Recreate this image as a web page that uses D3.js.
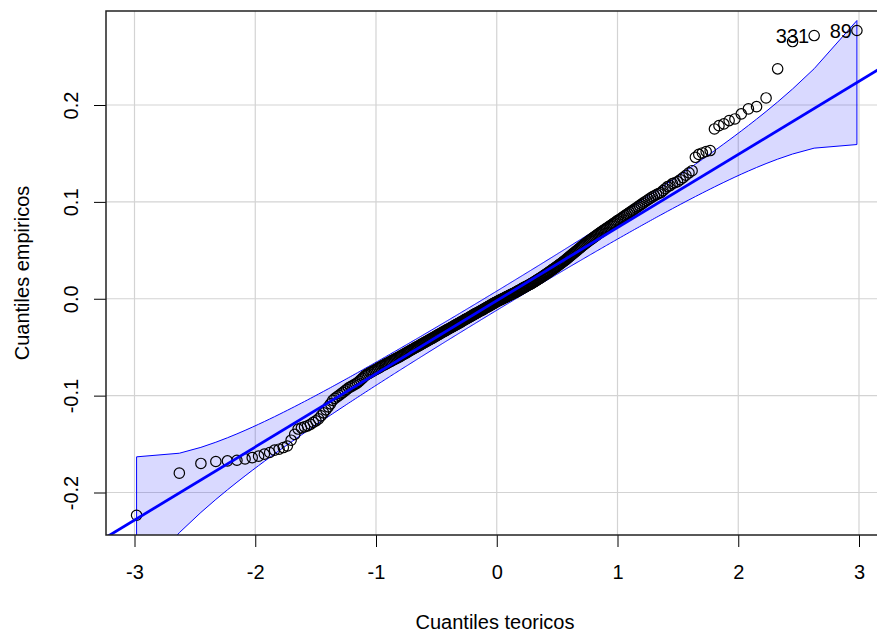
<!DOCTYPE html>
<html lang="es">
<head>
<meta charset="utf-8">
<title>QQ plot</title>
<script src="https://cdnjs.cloudflare.com/ajax/libs/d3/7.8.5/d3.min.js"></script>
<style>
body { margin: 0; background: #fff; }
svg text { font-family: "Liberation Sans", Arial, sans-serif; font-size: 20px; fill: #000; }
.grid line { stroke: #d3d3d3; stroke-width: 1.2px; }
.pt { fill: none; stroke: #000; stroke-width: 1.2px; }
</style>
</head>
<body>
<div id="main"></div>
<script>
// sorted sample values (cuantiles empiricos)
const sampleQuantiles = [
  -0.2235,-0.1800,-0.1700,-0.1680,-0.1674,-0.1667,-0.1653,-0.1640,-0.1625,-0.1604,
  -0.1587,-0.1563,-0.1553,-0.1536,-0.1520,-0.1460,-0.1400,-0.1345,-0.1333,-0.1322,
  -0.1312,-0.1296,-0.1276,-0.1260,-0.1240,-0.1209,-0.1178,-0.1147,-0.1116,-0.1085,
  -0.1049,-0.1028,-0.1012,-0.0997,-0.0981,-0.0966,-0.0950,-0.0935,-0.0919,-0.0909,
  -0.0899,-0.0888,-0.0878,-0.0868,-0.0852,-0.0837,-0.0821,-0.0806,-0.0790,-0.0781,
  -0.0772,-0.0763,-0.0754,-0.0746,-0.0738,-0.0730,-0.0722,-0.0714,-0.0705,-0.0697,
  -0.0689,-0.0682,-0.0674,-0.0667,-0.0660,-0.0653,-0.0646,-0.0639,-0.0632,-0.0625,
  -0.0618,-0.0612,-0.0605,-0.0599,-0.0592,-0.0585,-0.0578,-0.0571,-0.0564,-0.0558,
  -0.0551,-0.0544,-0.0537,-0.0530,-0.0524,-0.0518,-0.0511,-0.0505,-0.0499,-0.0493,
  -0.0487,-0.0481,-0.0474,-0.0468,-0.0462,-0.0456,-0.0450,-0.0444,-0.0438,-0.0432,
  -0.0426,-0.0420,-0.0414,-0.0409,-0.0403,-0.0397,-0.0391,-0.0385,-0.0379,-0.0373,
  -0.0368,-0.0362,-0.0356,-0.0351,-0.0345,-0.0340,-0.0334,-0.0329,-0.0323,-0.0317,
  -0.0312,-0.0307,-0.0302,-0.0297,-0.0291,-0.0286,-0.0280,-0.0275,-0.0269,-0.0264,
  -0.0259,-0.0254,-0.0249,-0.0243,-0.0238,-0.0232,-0.0227,-0.0222,-0.0216,-0.0211,
  -0.0206,-0.0201,-0.0196,-0.0191,-0.0186,-0.0180,-0.0175,-0.0169,-0.0164,-0.0159,
  -0.0154,-0.0149,-0.0144,-0.0139,-0.0134,-0.0129,-0.0124,-0.0119,-0.0114,-0.0109,
  -0.0104,-0.0098,-0.0093,-0.0088,-0.0083,-0.0078,-0.0073,-0.0069,-0.0063,-0.0058,
  -0.0053,-0.0048,-0.0043,-0.0038,-0.0033,-0.0028,-0.0023,-0.0019,-0.0014,-0.0010,
  -0.0006,-0.0001,0.0003,0.0008,0.0012,0.0017,0.0022,0.0026,0.0031,0.0035,
  0.0039,0.0044,0.0048,0.0053,0.0057,0.0062,0.0066,0.0071,0.0076,0.0081,
  0.0086,0.0091,0.0096,0.0102,0.0107,0.0112,0.0117,0.0122,0.0127,0.0132,
  0.0137,0.0142,0.0147,0.0152,0.0157,0.0163,0.0168,0.0174,0.0180,0.0186,
  0.0192,0.0198,0.0204,0.0210,0.0216,0.0222,0.0229,0.0235,0.0242,0.0248,
  0.0255,0.0261,0.0268,0.0275,0.0282,0.0289,0.0296,0.0303,0.0310,0.0317,
  0.0324,0.0331,0.0339,0.0346,0.0354,0.0362,0.0369,0.0377,0.0385,0.0393,
  0.0402,0.0410,0.0419,0.0428,0.0437,0.0446,0.0455,0.0464,0.0473,0.0482,
  0.0491,0.0500,0.0509,0.0519,0.0528,0.0538,0.0548,0.0557,0.0566,0.0575,
  0.0584,0.0593,0.0602,0.0610,0.0619,0.0628,0.0637,0.0646,0.0655,0.0665,
  0.0674,0.0683,0.0692,0.0701,0.0710,0.0719,0.0728,0.0738,0.0747,0.0756,
  0.0765,0.0775,0.0785,0.0796,0.0806,0.0816,0.0826,0.0836,0.0847,0.0858,
  0.0869,0.0880,0.0891,0.0902,0.0913,0.0925,0.0937,0.0949,0.0961,0.0974,
  0.0987,0.0999,0.1012,0.1026,0.1039,0.1052,0.1064,0.1075,0.1087,0.1095,
  0.1116,0.1136,0.1157,0.1167,0.1188,0.1198,0.1209,0.1229,0.1250,0.1275,
  0.1300,0.1322,0.1460,0.1490,0.1505,0.1520,0.1530,0.1753,0.1787,0.1805,
  0.1839,0.1856,0.1908,0.1960,0.1983,0.2073,0.2373,0.2655,0.2717,0.2769
];
const xTicks = [-3, -2, -1, 0, 1, 2, 3];
const yTicks = [-0.2, -0.1, 0, 0.1, 0.2];
const xTickLabels = ['-3', '-2', '-1', '0', '1', '2', '3'];
const yTickLabels = ['-0.2', '-0.1', '0.0', '0.1', '0.2'];
const labeledRanks = [349, 350];   // rank in the sorted sample
const labeledIds = ['331', '89'];
const lineIntercept = -0.002;      // fitted reference line
const lineSlope = 0.0755;
const confLevel = 0.95;

const width = 877, height = 633;
const plotLeft = 106, plotRight = 884, plotTop = 11, plotBottom = 535;

// inverse normal cdf (Acklam) and density, for the qq transform
function qnorm(p) {
    const a = [-3.969683028665376e+01, 2.209460984245205e+02, -2.759285104469687e+02, 1.383577518672690e+02, -3.066479806614716e+01, 2.506628277459239e+00];
    const b = [-5.447609879822406e+01, 1.615858368580409e+02, -1.556989798598866e+02, 6.680131188771972e+01, -1.328068155288572e+01];
    const c = [-7.784894002430293e-03, -3.223964580411365e-01, -2.400758277161838e+00, -2.549732539343734e+00, 4.374664141464968e+00, 2.938163982698783e+00];
    const d = [7.784695709041462e-03, 3.224671290700398e-01, 2.445134137142996e+00, 3.754408661907416e+00];
    const plow = 0.02425;
    let q, r;
    if (p < plow) {
        q = Math.sqrt(-2 * Math.log(p));
        return (((((c[0]*q+c[1])*q+c[2])*q+c[3])*q+c[4])*q+c[5]) / ((((d[0]*q+d[1])*q+d[2])*q+d[3])*q+1);
    }
    if (p <= 1 - plow) {
        q = p - 0.5; r = q * q;
        return (((((a[0]*r+a[1])*r+a[2])*r+a[3])*r+a[4])*r+a[5])*q / (((((b[0]*r+b[1])*r+b[2])*r+b[3])*r+b[4])*r+1);
    }
    q = Math.sqrt(-2 * Math.log(1 - p));
    return -(((((c[0]*q+c[1])*q+c[2])*q+c[3])*q+c[4])*q+c[5]) / ((((d[0]*q+d[1])*q+d[2])*q+d[3])*q+1);
}
const dnorm = z => Math.exp(-z * z / 2) / Math.sqrt(2 * Math.PI);

const n = sampleQuantiles.length;
const zCrit = qnorm(1 - (1 - confLevel) / 2);
const points = sampleQuantiles.map((v, i) => {
    const p = (i + 0.5) / n;
    const z = qnorm(p);
    const fit = lineIntercept + lineSlope * z;
    const se = (lineSlope / dnorm(z)) * Math.sqrt(p * (1 - p) / n);
    return { rank: i + 1, z: z, value: v, lower: fit - zCrit * se, upper: fit + zCrit * se };
});

const svg = d3.select('#main')
    .append('svg')
    .attr('width', width)
    .attr('height', height);

const xScale = d3.scaleLinear().domain([-3, 3]).range([134.5, 859]);
const yScale = d3.scaleLinear().domain([-0.2, 0.2]).range([492.5, 105]);

svg.append('clipPath')
    .attr('id', 'plotclip')
    .append('rect')
    .attr('x', plotLeft)
    .attr('y', plotTop)
    .attr('width', plotRight - plotLeft)
    .attr('height', plotBottom - plotTop);

// grid
const grid = svg.append('g').attr('class', 'grid');
grid.selectAll('line.v')
    .data(xTicks)
    .enter()
    .append('line')
    .attr('x1', d => xScale(d)).attr('x2', d => xScale(d))
    .attr('y1', plotTop).attr('y2', plotBottom);
grid.selectAll('line.h')
    .data(yTicks)
    .enter()
    .append('line')
    .attr('x1', plotLeft).attr('x2', plotRight)
    .attr('y1', d => yScale(d)).attr('y2', d => yScale(d));

const plot = svg.append('g').attr('clip-path', 'url(#plotclip)');

// confidence envelope
const band = d3.area()
    .x(d => xScale(d.z))
    .y0(d => yScale(d.lower))
    .y1(d => yScale(d.upper));

plot.append('path')
    .datum(points)
    .attr('d', band)
    .attr('fill', 'rgba(0,0,255,0.15)')
    .attr('stroke', '#0000ff')
    .attr('stroke-width', 1);

plot.selectAll('circle')
    .data(points)
    .enter()
    .append('circle')
    .attr('class', 'pt')
    .attr('cx', d => xScale(d.z))
    .attr('cy', d => yScale(d.value))
    .attr('r', 5.2);

// reference line across the plot region
const zEnds = [xScale.invert(plotLeft), xScale.invert(plotRight)];
plot.append('line')
    .attr('x1', xScale(zEnds[0]))
    .attr('y1', yScale(lineIntercept + lineSlope * zEnds[0]))
    .attr('x2', xScale(zEnds[1]))
    .attr('y2', yScale(lineIntercept + lineSlope * zEnds[1]))
    .attr('stroke', '#0000ff')
    .attr('stroke-width', 2.8);

// axes
const xAxis = d3.axisBottom(xScale).tickValues(xTicks).tickSize(12).tickPadding(18).tickFormat((d, i) => xTickLabels[i]);
svg.append('g')
    .attr('transform', `translate(0, ${plotBottom})`)
    .call(xAxis)
    .call(g => g.select('.domain').remove())
    .call(g => g.selectAll('line').attr('stroke', '#000'))
    .call(g => g.selectAll('text').attr('font-size', null));

const yAxis = d3.axisLeft(yScale).tickValues(yTicks).tickSize(12).tickFormat((d, i) => yTickLabels[i]);
svg.append('g')
    .attr('transform', `translate(${plotLeft}, 0)`)
    .call(yAxis)
    .call(g => g.select('.domain').remove())
    .call(g => g.selectAll('line').attr('stroke', '#000'))
    .call(g => g.selectAll('text')
        .attr('font-size', null)
        .attr('x', null)
        .attr('dy', '0.35em')
        .attr('text-anchor', 'middle')
        .attr('transform', 'translate(-35, 0) rotate(-90)'));

svg.selectAll('g').attr('font-family', null);

// box
svg.append('rect')
    .attr('x', plotLeft)
    .attr('y', plotTop)
    .attr('width', plotRight - plotLeft)
    .attr('height', plotBottom - plotTop)
    .attr('fill', 'none')
    .attr('stroke', '#222')
    .attr('stroke-width', 1.5);

// identified points
labeledRanks.forEach((r, i) => {
    const d = points[r - 1];
    svg.append('text')
        .attr('x', xScale(d.z) - 5)
        .attr('y', yScale(d.value))
        .attr('dy', '0.35em')
        .attr('text-anchor', 'end')
        .text(labeledIds[i]);
});

// axis titles
svg.append('text')
    .attr('x', (plotLeft + plotRight) / 2)
    .attr('y', 621.5)
    .attr('dy', '0.35em')
    .attr('text-anchor', 'middle')
    .text('Cuantiles teoricos');

svg.append('text')
    .attr('transform', `translate(22, ${(plotTop + plotBottom) / 2}) rotate(-90)`)
    .attr('dy', '0.35em')
    .attr('text-anchor', 'middle')
    .text('Cuantiles empiricos');
</script>
</body>
</html>
